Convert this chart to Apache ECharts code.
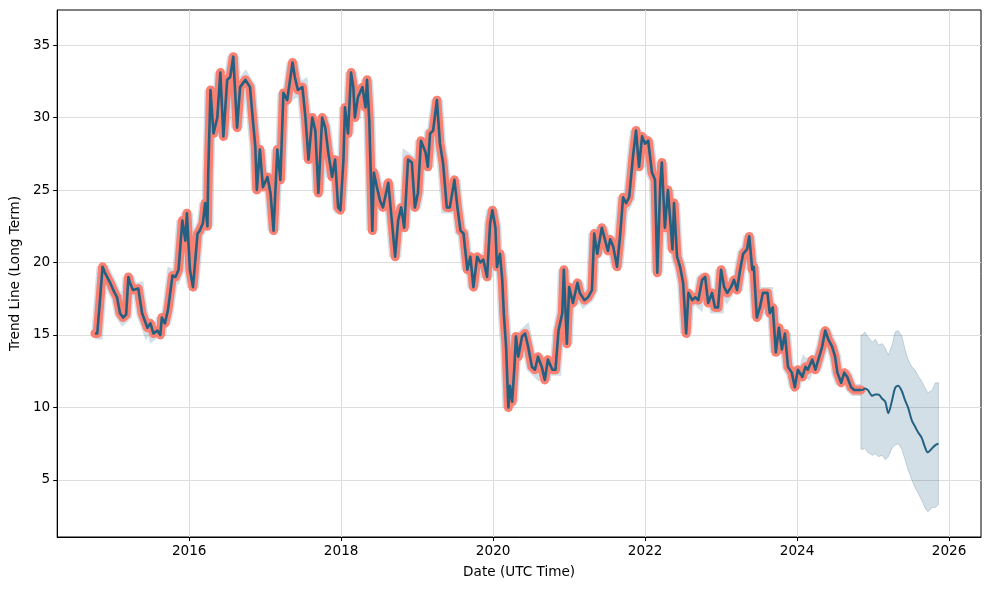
<!DOCTYPE html>
<html>
<head>
<meta charset="utf-8">
<script src="https://cdn.jsdelivr.net/npm/echarts@6/dist/echarts.min.js"></script>
<style>
html,body{margin:0;padding:0;background:#fff;}
#c{width:989px;height:590px;}
</style>
</head>
<body>
<div id="c"></div>
<script>
// ---- data (decimal years) ----
const histYears = [
2014.76,2014.79,2014.82,2014.86,2014.89,2014.96,2015.01,2015.05,2015.09,2015.13,2015.17,2015.20,2015.22,2015.26,2015.33,2015.38,2015.45,2015.49,2015.53,2015.58,2015.62,2015.64,2015.68,2015.72,2015.78,2015.82,2015.86,2015.91,2015.95,2015.97,2016.01,2016.05,2016.11,2016.14,2016.18,2016.21,2016.24,2016.25,
2016.28,2016.32,2016.37,2016.41,2016.45,2016.50,2016.54,2016.58,2016.63,2016.67,2016.74,2016.80,2016.83,2016.87,2016.89,2016.93,2016.97,
2017.03,2017.07,2017.11,2017.16,2017.20,2017.24,2017.29,2017.36,2017.39,2017.43,2017.49,2017.53,2017.57,2017.62,2017.66,2017.70,2017.75,2017.79,2017.83,2017.88,2017.92,2017.96,
2017.99,2018.03,2018.05,2018.09,2018.13,2018.16,2018.18,2018.22,2018.28,2018.32,2018.34,2018.37,2018.41,2018.43,2018.47,2018.51,2018.55,2018.62,2018.67,2018.71,2018.75,2018.79,2018.83,2018.88,2018.93,2018.97,
2019.01,2019.05,2019.11,2019.14,2019.17,2019.21,2019.26,2019.30,2019.34,2019.39,2019.43,2019.49,2019.53,2019.57,2019.61,2019.66,2019.70,2019.74,2019.79,2019.83,2019.87,2019.92,2019.96,2019.99,
2020.03,2020.05,2020.09,2020.12,2020.14,2020.17,2020.20,2020.22,2020.25,2020.28,2020.30,2020.33,2020.38,2020.42,2020.46,2020.51,2020.55,2020.59,2020.64,2020.68,2020.72,2020.78,2020.82,2020.86,2020.91,2020.93,2020.97,
2021.00,2021.05,2021.11,2021.14,2021.20,2021.25,2021.30,2021.33,2021.37,2021.43,2021.47,2021.51,2021.54,2021.58,2021.63,2021.67,2021.71,2021.75,2021.79,2021.84,2021.88,2021.92,2021.96,
2022.00,2022.04,2022.09,2022.13,2022.16,2022.20,2022.22,2022.26,2022.30,2022.36,2022.38,2022.42,2022.46,2022.50,2022.54,2022.57,2022.62,2022.66,2022.70,2022.75,2022.79,2022.83,2022.88,2022.92,2022.96,
2023.00,2023.04,2023.08,2023.13,2023.17,2023.21,2023.25,2023.29,2023.34,2023.37,2023.41,2023.43,2023.47,2023.51,2023.55,2023.61,2023.64,2023.68,2023.72,2023.76,2023.80,2023.84,2023.88,2023.93,2023.97,
2024.01,2024.07,2024.11,2024.14,2024.20,2024.24,2024.28,2024.33,2024.37,2024.41,2024.46,2024.50,2024.53,2024.58,2024.62,2024.66,2024.71,2024.75,2024.79,2024.84
];
const histValues = [
15.1,15.1,17.0,19.7,19.3,18.6,18.0,17.6,16.5,16.2,16.4,19.0,18.6,18.1,18.2,16.5,15.5,15.8,15.1,15.3,15.0,16.2,15.8,16.7,19.1,19.0,19.5,22.9,21.5,23.4,19.5,18.3,22.0,22.2,22.7,24.1,22.5,26.0,
31.9,28.9,30.0,33.1,28.7,32.6,32.8,34.2,29.3,32.1,32.6,32.1,30.3,28.0,25.0,27.8,25.2,
25.9,24.8,22.2,27.8,25.7,31.7,31.2,33.8,32.8,31.9,32.1,30.0,27.1,30.0,29.1,24.8,30.0,29.3,27.6,25.9,27.1,23.8,
23.6,27.1,30.7,28.9,33.1,32.1,30.0,31.4,32.1,30.7,32.6,29.8,22.2,26.2,25.2,24.3,23.8,25.5,22.7,20.4,22.9,23.8,22.4,27.1,26.9,23.8,
24.8,28.4,27.6,26.6,28.9,29.1,31.2,28.2,26.9,23.8,23.8,25.7,23.8,22.2,22.0,19.5,20.4,18.3,20.4,20.0,20.2,19.0,22.7,23.6,
22.4,19.7,20.6,18.8,16.5,14.2,10.0,11.5,10.4,12.8,14.9,13.5,14.9,15.1,14.2,12.8,12.6,13.5,12.8,11.9,13.3,12.6,12.6,15.3,16.5,19.5,14.4,
18.3,17.2,18.6,17.9,17.4,17.6,18.1,22.0,20.6,22.4,21.6,20.8,21.6,21.1,19.7,21.8,24.5,24.1,24.5,27.3,29.1,26.6,28.7,
28.2,28.4,26.2,25.7,19.3,25.5,26.9,22.4,25.0,20.9,24.1,20.4,19.7,18.6,15.1,17.9,17.4,17.6,17.4,18.8,19.0,17.2,17.9,16.9,16.9,
19.5,18.3,17.9,18.3,18.8,18.1,19.5,20.6,20.9,21.8,19.5,19.7,16.2,16.9,17.9,17.9,16.5,16.9,13.8,15.5,14.0,15.1,12.8,12.4,11.4,
12.6,12.1,12.8,12.6,13.3,12.6,13.3,14.2,15.3,14.7,14.2,13.5,12.4,11.7,12.4,12.1,11.4,11.2,11.2,11.2
];
const fcYears  = [2024.84,2024.86,2024.89,2024.93,2024.99,2025.03,2025.07,2025.12,2025.16,2025.20,2025.25,2025.29,2025.33,2025.38,2025.42,2025.46,2025.51,2025.55,2025.59,2025.64,2025.68,2025.72,2025.78,2025.82,2025.86];
const fcValues = [11.2,11.2,11.3,11.2,10.8,10.9,10.9,10.6,10.4,9.6,10.5,11.35,11.5,11.1,10.5,10.0,9.1,8.7,8.3,7.9,7.3,6.9,7.2,7.4,7.5];
const fcUpper  = [15.0,15.0,15.2,14.9,14.5,14.7,14.3,14.4,14.1,13.6,14.3,15.2,15.3,14.9,14.0,13.3,12.8,12.6,12.2,11.8,11.4,11.0,11.2,11.7,11.7];
const fcLower  = [7.1,7.1,7.2,6.9,6.7,6.8,6.6,6.7,6.4,6.6,7.2,7.4,7.5,7.1,6.4,5.7,5.0,4.5,4.1,3.6,3.1,2.8,3.1,3.1,3.3];
const xTicks = [2016,2018,2020,2022,2024,2026];
const yTicks = [5,10,15,20,25,30,35];

if (histYears.length !== histValues.length) throw new Error('hist length mismatch ' + histYears.length + ' vs ' + histValues.length);
if (fcYears.length !== fcValues.length || fcYears.length !== fcUpper.length || fcYears.length !== fcLower.length) throw new Error('fc length mismatch');

const hist = histYears.map((y, i) => [y, histValues[i]]);
const fc = fcYears.map((y, i) => [y, fcValues[i]]);
const bandData = fcYears.map((y, i) => [y, fcLower[i], fcUpper[i]]);

const DARK = '#236082';
const BAND = 'rgba(35,96,130,0.2)';
const FONT = 'DejaVu Sans';

function renderBand(params, api) {
  if (params.dataIndex !== 0) return null;
  const up = [], lo = [];
  for (let i = 0; i < bandData.length; i++) {
    up.push(api.coord([bandData[i][0], bandData[i][2]]));
    lo.push(api.coord([bandData[i][0], bandData[i][1]]));
  }
  const pts = up.concat(lo.reverse());
  return {
    type: 'polygon',
    shape: {points: pts},
    style: {fill: BAND, stroke: 'rgba(35,96,130,0.22)', lineWidth: 1}
  };
}

const chart = echarts.init(document.getElementById('c'), null, {renderer: 'canvas'});
chart.setOption({
  animation: false,
  backgroundColor: '#fff',
  textStyle: {fontFamily: FONT},
  grid: {left: 57, right: 8, top: 10, bottom: 53, show: true, borderColor: '#000', borderWidth: 1, backgroundColor: 'transparent'},
  xAxis: {
    type: 'value', min: 2014.263, max: 2026.42,
    name: 'Date (UTC Time)', nameLocation: 'middle', nameGap: 28,
    nameTextStyle: {color: '#000', fontSize: 13.6, fontFamily: FONT},
    axisLine: {show: true, onZero: false, lineStyle: {color: '#000', width: 1}},
    axisTick: {show: true, inside: false, length: 4, customValues: xTicks, lineStyle: {color: '#000'}},
    axisLabel: {customValues: xTicks, color: '#000', fontSize: 13.6, fontFamily: FONT, margin: 7, formatter: v => String(Math.round(v))},
    splitLine: {show: true, lineStyle: {color: '#dddddd', width: 1}}
  },
  yAxis: {
    type: 'value', min: 1.06, max: 37.42,
    name: 'Trend Line (Long Term)', nameLocation: 'middle', nameGap: 33,
    nameTextStyle: {color: '#000', fontSize: 13.6, fontFamily: FONT},
    axisLine: {show: true, onZero: false, lineStyle: {color: '#000', width: 1}},
    axisTick: {show: true, inside: false, length: 4, customValues: yTicks, lineStyle: {color: '#000'}},
    axisLabel: {customValues: yTicks, color: '#000', fontSize: 13.6, fontFamily: FONT, margin: 7},
    splitLine: {show: true, lineStyle: {color: '#dddddd', width: 1}}
  },
  series: [
    {type: 'line', data: hist, symbol: 'none', z: 1,
     lineStyle: {color: 'rgba(35,96,130,0.2)', width: 12, join: 'miter', miterLimit: 2.2, cap: 'butt'}},
    {type: 'custom', data: bandData, encode: {x: 0, y: [1, 2]}, renderItem: renderBand, z: 1, silent: true},
    {type: 'line', data: hist, symbol: 'none', z: 2,
     lineStyle: {color: '#fa8072', width: 9, join: 'round', cap: 'round'}},
    {type: 'line', data: hist, symbol: 'none', z: 3,
     lineStyle: {color: DARK, width: 2.6, join: 'round'}},
    {type: 'line', data: fc, symbol: 'none', z: 3, smooth: 0.3,
     lineStyle: {color: DARK, width: 2}}
  ]
});
</script>
</body>
</html>
